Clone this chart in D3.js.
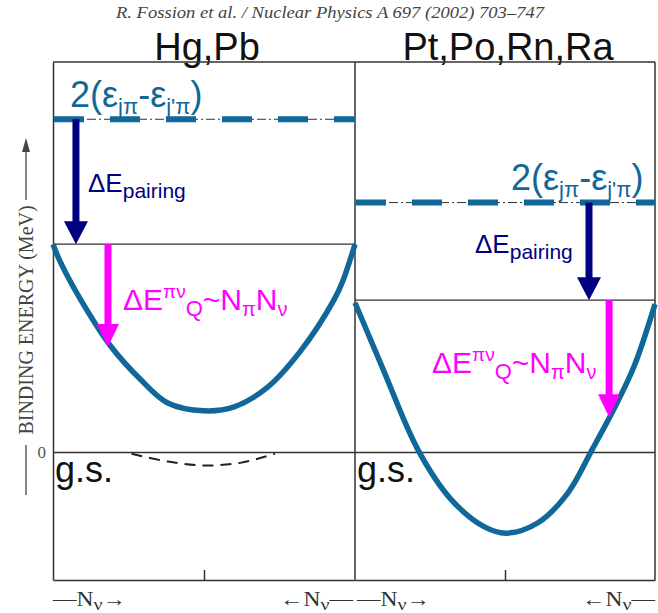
<!DOCTYPE html>
<html>
<head>
<meta charset="utf-8">
<script src="https://cdn.jsdelivr.net/npm/d3@7/dist/d3.min.js"></script>
<style>
  body { margin: 0; background: #fff; }
</style>
</head>
<body>
<svg id="chart"></svg>
<script>
const width = 658;
const height = 613;

// energies in arbitrary units (0 = ground state), N runs 0..10 across each panel
const panelNames = ["Hg,Pb", "Pt,Po,Rn,Ra"];
const pairingLevel = [12.8, 9.6];   // the 2(e_j - e_j') level
const pairedLevel = [8.0, 5.85];    // level after pairing gain
const quadTip = [4.05, 1.35];       // where the quadrupole arrow stops
const pairingArrowN = [0.76, 7.8];
const quadArrowN = [1.82, 8.47];
const midTick = [5];

const hgCurveN = [0, 0.25, 0.9, 1.9, 2.9, 3.8, 5, 6, 7.1, 8.2, 9.3, 9.6, 10];
const hgCurveE = [8.0, 7.3, 5.9, 4.1, 2.8, 1.9, 1.6, 1.75, 2.5, 3.9, 5.85, 6.6, 8.0];
const ptCurveN = [0, 0.9, 2.1, 3.2, 4.3, 5.05, 6.1, 7.1, 7.9, 8.6, 9.3, 10];
const ptCurveE = [5.75, 3.3, 0.1, -1.8, -2.85, -3.1, -2.7, -1.55, 0.1, 1.6, 3.3, 5.7];
const gsDipN = [2.6, 3.8, 5, 6.2, 7.35];
const gsDipE = [-0.05, -0.35, -0.5, -0.4, -0.05];

const blue = "#10679a";
const navy = "#000080";
const magenta = "#ff00ff";
const sans = "'Liberation Sans', Arial, sans-serif";
const serif = "'Liberation Serif', 'Times New Roman', serif";

const svg = d3.select("#chart")
    .attr("width", width)
    .attr("height", height)
    .attr("viewBox", [0, 0, width, height]);

const y = d3.scaleLinear().domain([-4.9, 15]).range([580, 62]);
const xs = [
  d3.scaleLinear().domain([0, 10]).range([53, 355]),
  d3.scaleLinear().domain([0, 10]).range([355, 655])
];

// text with sub/superscripts: parts = [text, size, shift]
function richText(g, x, yy, parts, color, anchor) {
  const t = g.append("text")
      .attr("x", x).attr("y", yy)
      .attr("fill", color)
      .attr("text-anchor", anchor || "start")
      .style("font-family", sans);
  let prev = 0;
  parts.forEach(([s, size, shift]) => {
    t.append("tspan")
        .attr("dy", shift - prev)
        .style("font-size", size + "px")
        .text(s);
    prev = shift;
  });
  return t;
}

function arrow(g, x, y0, y1, color, w, headW, headH) {
  g.append("line")
      .attr("x1", x).attr("x2", x)
      .attr("y1", y0).attr("y2", y1 - headH + 1)
      .attr("stroke", color).attr("stroke-width", w);
  g.append("path")
      .attr("d", `M${x - headW / 2},${y1 - headH}L${x + headW / 2},${y1 - headH}L${x},${y1}Z`)
      .attr("fill", color);
}

const line = d3.line().curve(d3.curveCatmullRom.alpha(0.5));

// header (the scanned header is stretched sideways)
svg.append("text")
    .attr("x", 330).attr("y", 18)
    .attr("text-anchor", "middle")
    .attr("textLength", 428)
    .attr("lengthAdjust", "spacingAndGlyphs")
    .attr("fill", "#444")
    .style("font-family", serif)
    .style("font-style", "italic")
    .style("font-size", "16px")
    .text("R. Fossion et al. / Nuclear Physics A 697 (2002) 703–747");

panelNames.forEach((name, i) => {
  svg.append("text")
      .attr("x", d3.mean(xs[i].range()) + 3)
      .attr("y", 60)
      .attr("text-anchor", "middle")
      .attr("fill", "#111")
      .style("font-family", sans)
      .style("font-size", "38px")
      .text(name);
});

// frame and axes
const frame = svg.append("g");
xs.forEach(x => {
  frame.append("g")
      .attr("transform", `translate(0,${y.range()[0]})`)
      .call(d3.axisBottom(x).tickValues(midTick).tickSizeInner(-10).tickSizeOuter(0).tickFormat(""))
      .call(a => a.selectAll("path,line").attr("stroke", "#333").attr("stroke-width", 1.5));
  frame.append("line")
      .attr("x1", x.range()[1]).attr("x2", x.range()[1])
      .attr("y1", y.range()[1]).attr("y2", y.range()[0])
      .attr("stroke", "#333").attr("stroke-width", 1.5);
  frame.append("line")
      .attr("x1", x.range()[0]).attr("x2", x.range()[1])
      .attr("y1", y.range()[1]).attr("y2", y.range()[1])
      .attr("stroke", "#333").attr("stroke-width", 1.5);
});
frame.append("g")
    .attr("transform", `translate(${xs[0].range()[0]},0)`)
    .call(d3.axisLeft(y).tickValues([0]).tickSize(0).tickPadding(7))
    .call(a => a.select(".domain").attr("stroke", "#333").attr("stroke-width", 1.5))
    .call(a => a.selectAll("text").attr("fill", "#555").style("font-family", serif).style("font-size", "17px"));

// zero (ground state) line
svg.append("line")
    .attr("x1", xs[0].range()[0]).attr("x2", xs[1].range()[1])
    .attr("y1", y(0)).attr("y2", y(0))
    .attr("stroke", "#333").attr("stroke-width", 1.5);

// y axis title with arrow
const yt = svg.append("g").attr("fill", "#444").attr("stroke", "#444");
yt.append("text")
    .attr("transform", "translate(33,320) rotate(-90)")
    .attr("text-anchor", "middle")
    .attr("stroke", "none")
    .style("font-family", serif)
    .style("font-size", "20px")
    .text("BINDING ENERGY (MeV)");
yt.append("line").attr("x1", 26).attr("x2", 26).attr("y1", 200).attr("y2", 148).attr("stroke-width", 1.3);
yt.append("path").attr("d", "M26,138L22,152L30,152Z").attr("stroke", "none");
yt.append("line").attr("x1", 26).attr("x2", 26).attr("y1", 445).attr("y2", 495).attr("stroke-width", 1.3);

// bottom N_nu labels
const nuLabels = [
  { x: xs[0](0), anchor: "start", pre: "—N", post: "→" },
  { x: xs[0](10) - 2, anchor: "end", pre: "←N", post: "—" },
  { x: xs[1](0) + 2, anchor: "start", pre: "—N", post: "→" },
  { x: xs[1](10), anchor: "end", pre: "←N", post: "—" }
];
nuLabels.forEach(d => {
  const t = svg.append("text")
      .attr("x", d.x).attr("y", 606)
      .attr("text-anchor", d.anchor)
      .attr("textLength", 73)
      .attr("lengthAdjust", "spacingAndGlyphs")
      .attr("fill", "#333")
      .style("font-family", serif)
      .style("font-size", "20px");
  t.append("tspan").text(d.pre);
  t.append("tspan").attr("dy", 4).style("font-size", "17px").text("ν");
  t.append("tspan").attr("dy", -4).text(d.post);
});

// panels
const curves = [[hgCurveN, hgCurveE], [ptCurveN, ptCurveE]];
xs.forEach((x, i) => {
  const g = svg.append("g");
  const [x0, x1] = x.range();

  // level after pairing
  g.append("line")
      .attr("x1", x0).attr("x2", x1)
      .attr("y1", y(pairedLevel[i])).attr("y2", y(pairedLevel[i]))
      .attr("stroke", "#333").attr("stroke-width", 1.3);

  // 2(e-e') level: thin dash-dot + thick blue dashes
  g.append("line")
      .attr("x1", x0).attr("x2", x1)
      .attr("y1", y(pairingLevel[i])).attr("y2", y(pairingLevel[i]))
      .attr("stroke", "#333").attr("stroke-width", 1)
      .attr("stroke-dasharray", "9,3,2,3");
  g.append("line")
      .attr("x1", x0 + 1).attr("x2", x1)
      .attr("y1", y(pairingLevel[i])).attr("y2", y(pairingLevel[i]))
      .attr("stroke", blue).attr("stroke-width", 6)
      .attr("stroke-dasharray", "30,26");

  // energy curve
  const [cn, ce] = curves[i];
  g.append("path")
      .attr("d", line(cn.map((n, k) => [x(n), y(ce[k])])))
      .attr("fill", "none")
      .attr("stroke", blue)
      .attr("stroke-width", 5.5);

  arrow(g, x(pairingArrowN[i]), y(pairingLevel[i]), y(pairedLevel[i]), navy, 7, 24, 23);
  arrow(g, x(quadArrowN[i]), y(pairedLevel[i]), y(quadTip[i]), magenta, 7, 22, 23);

  g.append("text")
      .attr("x", x0 + 2).attr("y", y(0) + 30)
      .attr("fill", "#111")
      .style("font-family", sans)
      .style("font-size", "36px")
      .text("g.s.");
});

// dashed dip near ground state (Hg,Pb)
svg.append("path")
    .attr("d", line(gsDipN.map((n, k) => [xs[0](n), y(gsDipE[k])])))
    .attr("fill", "none")
    .attr("stroke", "#222")
    .attr("stroke-width", 2)
    .attr("stroke-dasharray", "11,7");

// labels
const epsParts = [["2(", 36, 0], ["ε", 36, 0], ["jπ", 22, 7], ["-ε", 36, 0], ["j'π", 22, 7], [")", 36, 0]];
const pairParts = [["ΔE", 26, 0], ["pairing", 21, 6]];
const quadParts = [["ΔE", 30, 0], ["πν", 19, -12], ["Q", 22, 6], ["~N", 30, 0], ["π", 20, 6], ["N", 30, 0], ["ν", 20, 6]];

const labels = svg.append("g");
richText(labels, 70, 107, epsParts, blue);
richText(labels, 511, 190, epsParts, blue);
richText(labels, 88, 192, pairParts, navy);
richText(labels, 475, 253, pairParts, navy);
richText(labels, 123, 310, quadParts, magenta);
richText(labels, 432, 373, quadParts, magenta);
</script>
</body>
</html>
